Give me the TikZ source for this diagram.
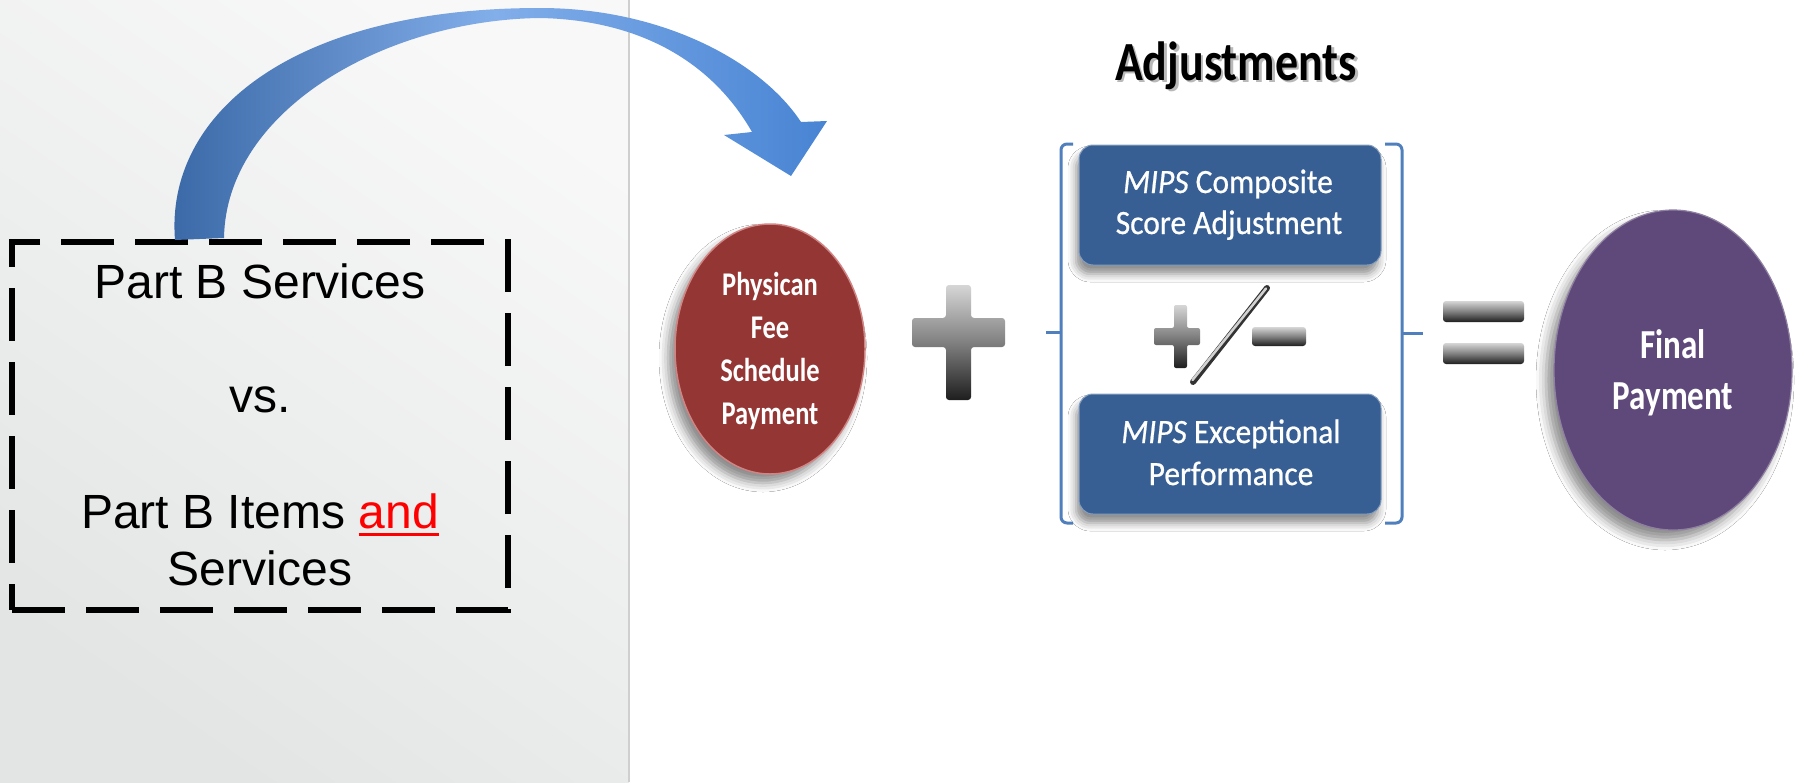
\documentclass[tikz,border=0pt]{standalone}
\usepackage{graphicx}
\usepackage{fontspec}
\setmainfont{Liberation Sans}
\newfontfamily\calibri{Carlito}
\newfontfamily\calibrimed[FakeBold=0.7]{Carlito}
\usetikzlibrary{shapes.geometric,shadows.blur}
\definecolor{bgA}{HTML}{E3E5E5}
\definecolor{bgB}{HTML}{F8F8F8}
\definecolor{arrowA}{HTML}{3A68A6}
\definecolor{arrowB}{HTML}{82AEEA}
\definecolor{arrowC}{HTML}{4884D3}
\definecolor{pfsred}{HTML}{943634}
\definecolor{pfsrim}{HTML}{D08584}
\definecolor{finalpurple}{HTML}{5F497A}
\definecolor{mipsblue}{HTML}{375F93}
\definecolor{brk}{HTML}{4F7FBC}
\definecolor{divline}{HTML}{CFCFCF}
\definecolor{metalA}{HTML}{D6D6D6}
\definecolor{metalB}{HTML}{808080}
\definecolor{metalC}{HTML}{1E1E1E}
\newcommand\redund[1]{\setbox0\hbox{#1}\rlap{\color{red}\rule[-8pt]{\wd0}{3.5pt}}\textcolor{red}{#1}}
\newcommand\tallA[1]{\scalebox{1}[1.25]{#1}}
\newcommand\tallB[1]{\scalebox{1}[1.2]{#1}}
\newcommand\tallC[1]{\scalebox{1}[1.08]{#1}}
\begin{document}
\begin{tikzpicture}[x=1pt,y=-1pt,
  arialtxt/.style={font=\fontsize{48}{58}\selectfont, anchor=base, inner sep=0pt, text=black},
  dashbox/.style={draw=black, line width=6pt, dash pattern=on 53pt off 21pt, minimum width=496pt, minimum height=368pt, inner sep=0pt},
  ellred/.style={ellipse, minimum width=190pt, minimum height=250pt, inner sep=0pt, fill=pfsred, draw=pfsrim, line width=1.5pt,
     blur shadow={shadow xshift=-7pt, shadow yshift=-9pt, shadow blur radius=9pt, shadow opacity=45}},
  ellpurple/.style={ellipse, minimum width=238pt, minimum height=320pt, inner sep=0pt, fill=finalpurple, draw=finalpurple!70!white, line width=1.2pt,
     blur shadow={shadow xshift=-8pt, shadow yshift=-10pt, shadow blur radius=10pt, shadow opacity=45}},
  mipsbox/.style={rectangle, rounded corners=14pt, minimum width=302pt, minimum height=120pt, inner sep=0pt, fill=mipsblue, draw=mipsblue!60!white, line width=1pt,
     blur shadow={shadow xshift=-3pt, shadow yshift=-9pt, shadow blur radius=8pt, shadow opacity=45}},
  pfsline/.style={text=white, anchor=base, inner sep=0pt, font=\calibri\bfseries\fontsize{26.5}{30}\selectfont},
  finline/.style={text=white, anchor=base, inner sep=0pt, font=\calibri\bfseries\fontsize{33}{40}\selectfont},
  mipsline/.style={text=white, anchor=base, inner sep=0pt, font=\calibrimed\fontsize{31.5}{38}\selectfont},
  bracket/.style={draw=brk, line width=3pt, rounded corners=6pt},
  metal/.style={top color=metalA, bottom color=metalC, middle color=metalB, rounded corners=3pt},
]
% background
\useasboundingbox (0,0) rectangle (1803,782);
\fill[white] (0,0) rectangle (1803,782);
\shade[top color=bgB, bottom color=bgA, shading angle=-35] (0,0) rectangle (629,782);
\draw[divline, line width=1.5pt] (629,0) -- (629,782);

% dashed box and its text
\node[dashbox] (box) at (260,426) {};
\node[arialtxt] (l1) at (260,298) {Part B Services};
\node[arialtxt] (l2) at (260,412) {vs.};
\node[arialtxt] (l3) at (260,528) {Part B Items \redund{and}};
\node[arialtxt] (l4) at (260,585) {Services};

% curved block arrow
\shade[left color=arrowA, right color=arrowC, middle color=arrowB]
  (175,240) .. controls (165,115) and (290,8) .. (540,8)
  .. controls (660,8) and (760,60) .. (801,122)
  -- (827,121) -- (791,176) -- (724,135) -- (752,132)
  .. controls (712,62) and (640,20) .. (540,18)
  .. controls (385,20) and (226,110) .. (224,238) -- cycle;

% title
\node[font=\calibri\bfseries\fontsize{46}{50}\selectfont, text=gray!55, inner sep=0pt, anchor=base] (adjsh) at (1238.5,82.5) {\tallB{Adjustments}};
\node[font=\calibri\bfseries\fontsize{46}{50}\selectfont, text=black, inner sep=0pt, anchor=base] (adj) at (1236,80) {\tallB{Adjustments}};

% physician fee schedule ellipse
\node[ellred] (pfs) at (770,349) {};
\node[pfsline] (p1) at (770,295) {\tallA{Physican}};
\node[pfsline] (p2) at (770,338) {\tallA{Fee}};
\node[pfsline] (p3) at (770,381) {\tallA{Schedule}};
\node[pfsline] (p4) at (770,424) {\tallA{Payment}};

% big plus
\shade[metal] (946,285) -- (971,285) -- (971,318) -- (1005,318) -- (1005,347) -- (971,347) -- (971,400) -- (946,400) -- (946,347) -- (912,347) -- (912,318) -- (946,318) -- cycle;

% brackets
\draw[bracket] (1073,144) -- (1061,144) -- (1061,523) -- (1073,523);
\draw[draw=brk, line width=3pt] (1061,332) -- (1046,332);
\draw[bracket] (1385,144) -- (1402,144) -- (1402,523) -- (1385,523);
\draw[draw=brk, line width=3pt] (1402,333) -- (1423,333);

% MIPS boxes
\node[mipsbox] (top) at (1230,205) {};
\node[mipsline] (t1) at (1228,193) {\tallC{\textit{MIPS} Composite}};
\node[mipsline] (t2) at (1229,234) {\tallC{Score Adjustment}};
\node[mipsbox] (bot) at (1230,454) {};
\node[mipsline] (b1) at (1231,443) {\tallC{\textit{MIPS} Exceptional}};
\node[mipsline] (b2) at (1231,485) {\tallC{Performance}};

% plus / minus
\shade[metal, rounded corners=2pt] (1174,305) -- (1187,305) -- (1187,328) -- (1200,328) -- (1200,345) -- (1187,345) -- (1187,368) -- (1174,368) -- (1174,345) -- (1154,345) -- (1154,328) -- (1174,328) -- cycle;
\draw[line width=6pt, line cap=round, gray!40!black] (1193,382) -- (1267,288);
\draw[line width=2.5pt, line cap=round, gray!35] (1192.5,380) -- (1266,288.5);
\shade[metal] (1252,327) rectangle (1306,346);

% equals
\shade[metal] (1443,301) rectangle (1524,322);
\shade[metal] (1443,343) rectangle (1524,364);

% final payment
\node[ellpurple] (final) at (1673,370) {};
\node[finline] (f1) at (1673,358) {\tallA{Final}};
\node[finline] (f2) at (1673,409) {\tallA{Payment}};
\end{tikzpicture}
\end{document}
